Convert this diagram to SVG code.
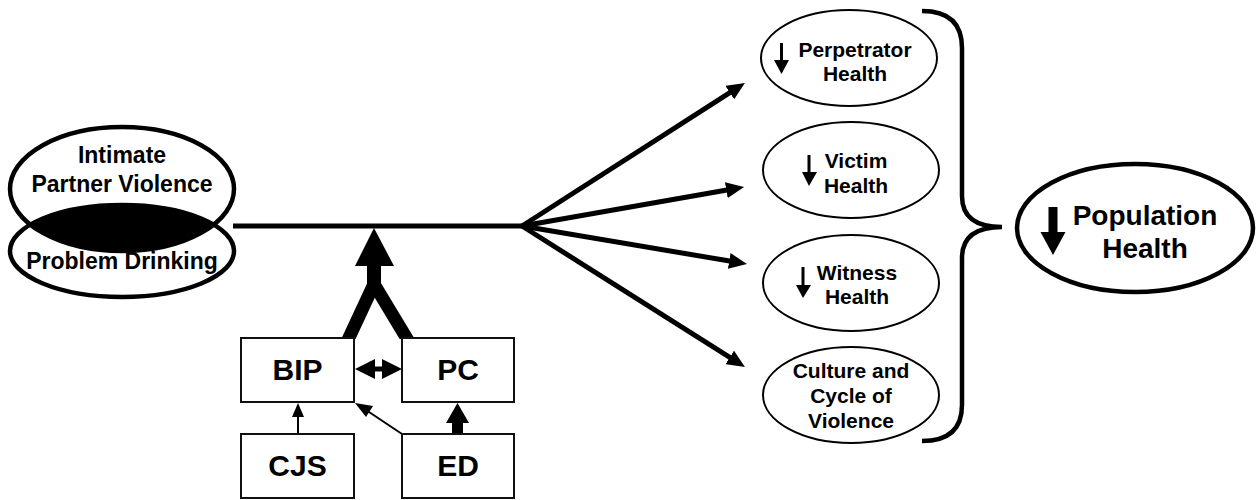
<svg xmlns="http://www.w3.org/2000/svg" width="1256" height="500" viewBox="0 0 1256 500">
<defs>
<style>
text{font-family:"Liberation Sans",Arial,sans-serif;font-weight:bold;fill:#000;text-anchor:middle}
.thick{fill:none;stroke:#000;stroke-width:4.5}
.thin{fill:#fff;stroke:#000;stroke-width:2}
.box{fill:#fff;stroke:#111;stroke-width:2}
.fan{fill:none;stroke:#000;stroke-width:5}
.t21{font-size:21px}
.t23{font-size:23px}
.t30{font-size:30px}
.t28{font-size:28px}
</style>
<marker id="ah" markerUnits="userSpaceOnUse" markerWidth="18" markerHeight="16" refX="8" refY="8" orient="auto">
<path d="M0,0 L18,8 L0,16 z" fill="#000"/>
</marker>
<clipPath id="topClip"><ellipse cx="122" cy="189" rx="112" ry="62"/></clipPath>
<clipPath id="legClip"><rect x="0" y="0" width="1256" height="339"/></clipPath>
</defs>
<rect width="1256" height="500" fill="#fff"/>

<g id="connectors">
<path class="fan" d="M233,226 L522,226"/>
<line class="fan" x1="522" y1="226" x2="736.5" y2="88.3" marker-end="url(#ah)"/>
<line class="fan" x1="522" y1="226" x2="734.2" y2="188.8" marker-end="url(#ah)"/>
<line class="fan" x1="522" y1="226" x2="737.1" y2="262.3" marker-end="url(#ah)"/>
<line class="fan" x1="522" y1="226" x2="736.5" y2="361.7" marker-end="url(#ah)"/>
<!-- Y arrow from BIP and PC -->
<polygon points="374,228 355,266 394,266" fill="#000"/>
<rect x="367" y="262" width="14" height="30" fill="#000"/>
<g clip-path="url(#legClip)">
<line x1="374" y1="284" x2="347" y2="342" stroke="#000" stroke-width="13"/>
<line x1="374" y1="284" x2="409" y2="342" stroke="#000" stroke-width="13"/>
</g>
<!-- BIP <-> PC -->
<polygon points="355,369 375,359 375,366.5 382,366.5 382,359 402,369 382,379 382,371.5 375,371.5 375,379" fill="#000"/>
<!-- CJS -> BIP -->
<line x1="298" y1="434" x2="298" y2="414" stroke="#000" stroke-width="2"/>
<polygon points="298,403 292,417 304,417" fill="#000"/>
<!-- ED -> BIP -->
<line x1="402" y1="434" x2="366" y2="410" stroke="#000" stroke-width="2"/>
<polygon points="355,403 373,406 366,417" fill="#000"/>
<!-- ED -> PC -->
<rect x="452" y="420" width="11" height="14" fill="#000"/>
<polygon points="457.5,403 446,423 469,423" fill="#000"/>
<!-- brace -->
<path class="thick" d="M922,11 Q962,11 962,48 L962,196 Q962,227 1002,227 Q962,227 962,258 L962,405 Q962,441 922,441"/>
</g>

<g id="ipv-pd">
<ellipse cx="122" cy="251" rx="112" ry="46" fill="#000" clip-path="url(#topClip)"/>
<ellipse class="thick" cx="122" cy="189" rx="112" ry="62"/>
<ellipse class="thick" cx="122" cy="251" rx="112" ry="46"/>
<text class="t23" x="122" y="163">Intimate</text>
<text class="t23" x="122" y="192">Partner Violence</text>
<text class="t23" x="122" y="269">Problem Drinking</text>
</g>

<g id="bip">
<rect class="box" x="241" y="338" width="113" height="64"/>
<text class="t30" x="297.5" y="380">BIP</text>
</g>
<g id="pc">
<rect class="box" x="402" y="338" width="112" height="64"/>
<text class="t30" x="458" y="380">PC</text>
</g>
<g id="cjs">
<rect class="box" x="241" y="434" width="113" height="64"/>
<text class="t30" x="297.5" y="476">CJS</text>
</g>
<g id="ed">
<rect class="box" x="402" y="434" width="112" height="64"/>
<text class="t30" x="458" y="476">ED</text>
</g>

<g id="perpetrator">
<ellipse class="thin" cx="849" cy="58" rx="88" ry="48"/>
<rect x="780" y="43" width="3" height="18" fill="#000"/>
<polygon points="774,60 789,60 781.5,74" fill="#000"/>
<text class="t21" x="855" y="57">Perpetrator</text>
<text class="t21" x="855" y="81">Health</text>
</g>
<g id="victim">
<ellipse class="thin" cx="851" cy="170" rx="88" ry="48"/>
<rect x="807.5" y="155" width="3" height="18" fill="#000"/>
<polygon points="802,172 817,172 809,186" fill="#000"/>
<text class="t21" x="856" y="168">Victim</text>
<text class="t21" x="856" y="193">Health</text>
</g>
<g id="witness">
<ellipse class="thin" cx="851" cy="283" rx="88" ry="48"/>
<rect x="801.5" y="267" width="3" height="19" fill="#000"/>
<polygon points="796,285 811,285 803,298" fill="#000"/>
<text class="t21" x="857" y="280">Witness</text>
<text class="t21" x="857" y="304">Health</text>
</g>
<g id="culture">
<ellipse class="thin" cx="851" cy="395" rx="88" ry="48"/>
<text class="t21" x="851" y="378">Culture and</text>
<text class="t21" x="851" y="403">Cycle of</text>
<text class="t21" x="851" y="428">Violence</text>
</g>

<g id="population">
<ellipse class="thick" cx="1135" cy="228" rx="118" ry="64"/>
<rect x="1048.5" y="207" width="9" height="27" fill="#000"/>
<polygon points="1040.5,232 1065.5,232 1053,255" fill="#000"/>
<text class="t28" x="1145" y="225">Population</text>
<text class="t28" x="1145" y="258">Health</text>
</g>
</svg>
